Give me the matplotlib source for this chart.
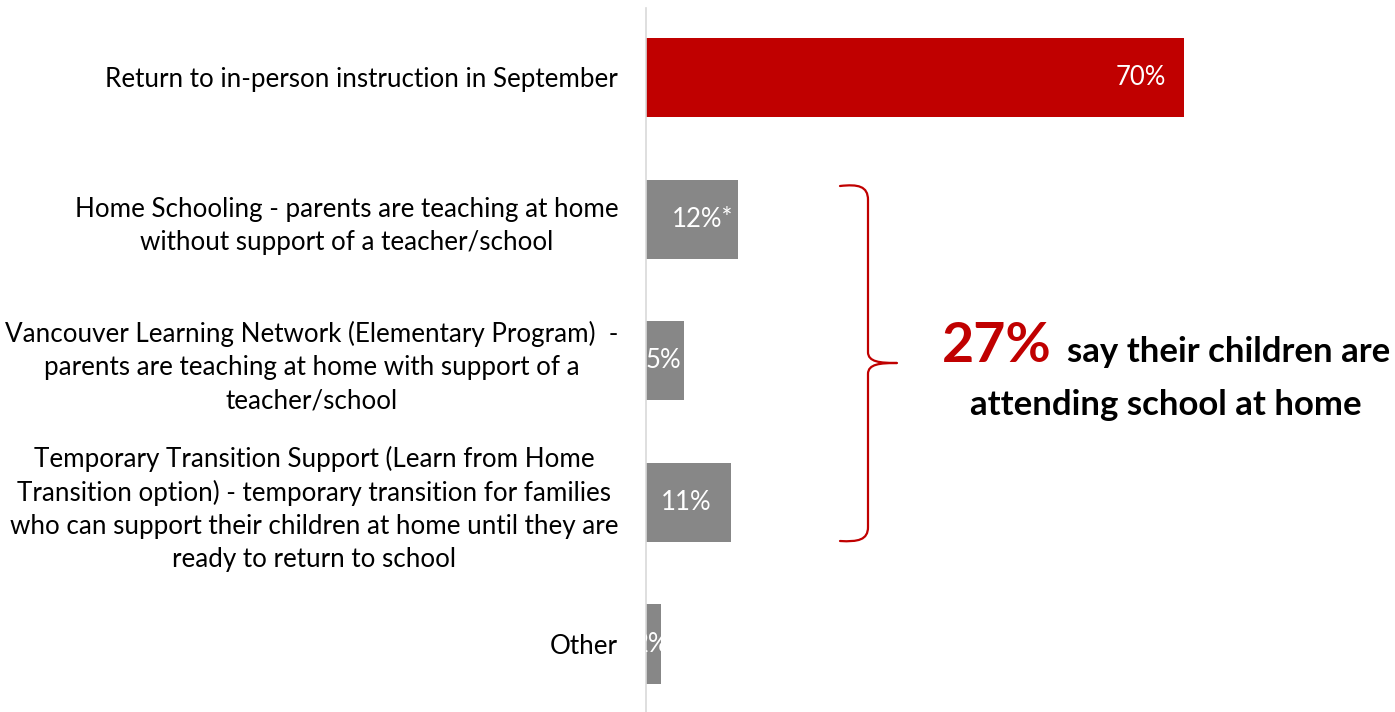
import matplotlib
matplotlib.use("Agg")
import matplotlib.pyplot as plt
from matplotlib.path import Path
from matplotlib.patches import PathPatch

categories = [
    "Return to in-person instruction in September",
    "Home Schooling - parents are teaching at home\nwithout support of a teacher/school",
    "Vancouver Learning Network (Elementary Program)  -\nparents are teaching at home with support of a\nteacher/school",
    "Temporary Transition Support (Learn from Home\nTransition option) - temporary transition for families\nwho can support their children at home until they are\nready to return to school",
    "Other",
]
values = [70, 12, 5, 11, 2]
value_labels = ["70%", "12%*", "5%", "11%", "2%"]
colors = ["#C00000", "#878787", "#878787", "#878787", "#878787"]
callout_big = "27%"
callout_line1 = "say their children are"
callout_line2 = "attending school at home"

plt.rcParams['font.family'] = ['Lato', 'DejaVu Sans']

W, H = 1395, 712
fig = plt.figure(figsize=(W / 100, H / 100), dpi=100)

px_per_unit = 538 / 70.0
ax_left = 646
ax_width = W - ax_left
ax = fig.add_axes([ax_left / W, 0, ax_width / W, (H - 8) / H])
ax.set_xlim(0, ax_width / px_per_unit)
ax.set_ylim(4.48, -0.49)

ypos = list(range(len(values)))
ax.barh(ypos, values, height=0.558, color=colors, zorder=2)

for y, v, lab in zip(ypos, values, value_labels):
    if v > 30:
        ax.text(v - 2.3, y, lab, ha='right', va='center', color='white',
                fontsize=18.5, clip_on=True, zorder=3)
    else:
        xoff = 1.3 if lab.endswith('*') else -0.3
        ax.text(v / 2 + xoff, y, lab, ha='center', va='center', color='white',
                fontsize=18.5, clip_on=True, zorder=3)

ax.set_yticks(ypos)
ax.set_yticklabels(categories, fontsize=18.7, linespacing=1.4,
                   multialignment='center', color='black')
ax.tick_params(axis='y', length=0, pad=20)
ax.set_xticks([])
for s in ['top', 'right', 'bottom']:
    ax.spines[s].set_visible(False)
ax.spines['left'].set_color('#D9D9D9')
ax.spines['left'].set_linewidth(1.2)

# overlay in pixel coords
ov = fig.add_axes([0, 0, 1, 1], facecolor='none')
ov.set_xlim(0, W)
ov.set_ylim(H, 0)
ov.axis('off')

red = "#C00000"
verts = [
    (840, 186), (858, 184), (868, 186), (868, 200),
    (868, 352),
    (868, 362), (880, 363), (897, 363),
    (880, 363), (868, 364), (868, 374),
    (868, 527),
    (868, 540), (858, 542), (840, 541),
]
codes = [Path.MOVETO, Path.CURVE4, Path.CURVE4, Path.CURVE4,
         Path.LINETO,
         Path.CURVE4, Path.CURVE4, Path.CURVE4,
         Path.CURVE4, Path.CURVE4, Path.CURVE4,
         Path.LINETO,
         Path.CURVE4, Path.CURVE4, Path.CURVE4]
ov.add_patch(PathPatch(Path(verts, codes), fill=False, edgecolor=red, lw=1.6,
                       capstyle='round', joinstyle='round'))

ov.text(942, 362, callout_big, ha='left', va='baseline', color=red,
        fontsize=40, fontweight='bold')
ov.text(1390, 362, callout_line1, ha='right', va='baseline', color='black',
        fontsize=25, fontweight='bold')
ov.text(1166, 415, callout_line2, ha='center', va='baseline', color='black',
        fontsize=25, fontweight='bold')

fig.savefig("out.png", dpi=100)
